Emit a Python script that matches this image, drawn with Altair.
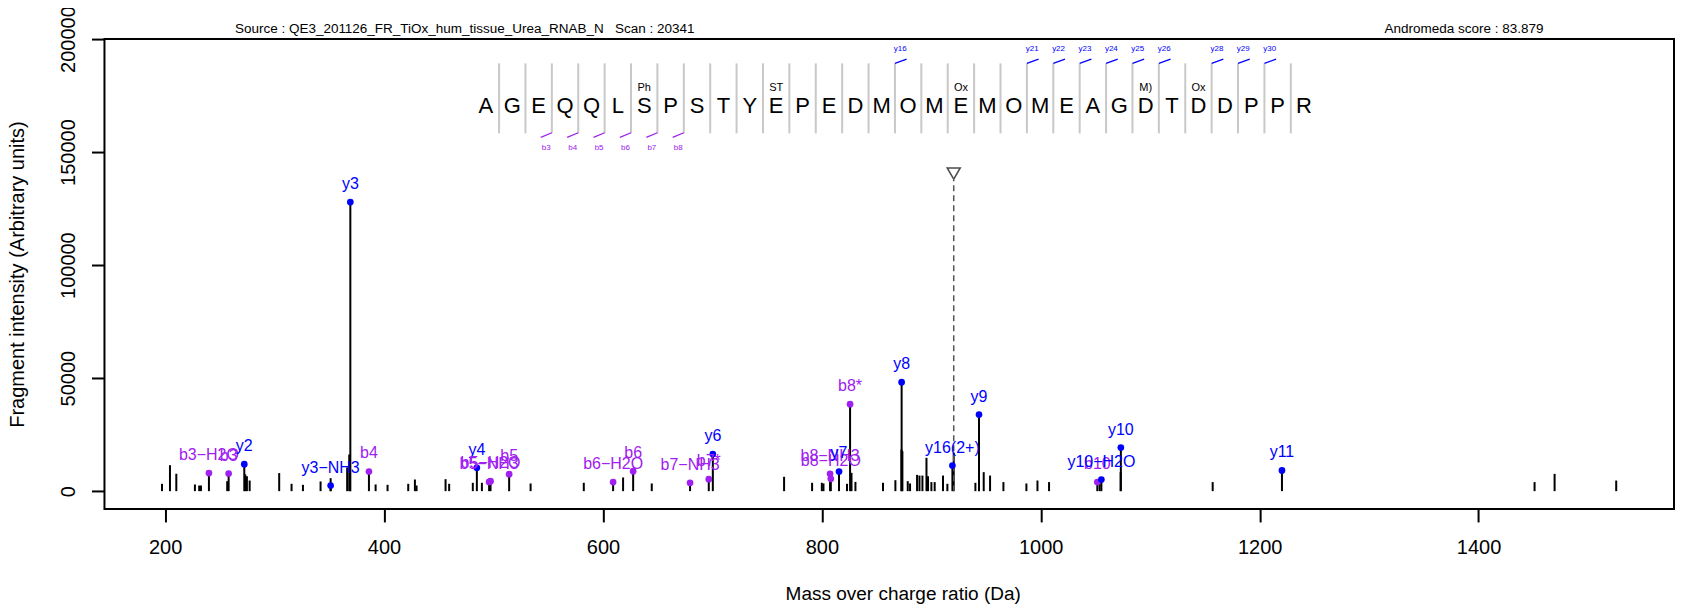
import altair as alt
import pandas as pd

# ---------------- data ----------------
# unannotated fragment peaks (m/z, intensity)
other_mz = [197.1, 204.4, 210.2, 227.2, 231.1, 232.7, 256.7, 273.2, 274.7, 277.2,
            304.2, 315.5, 325.9, 342.0, 351.2, 366.3, 368.2, 392.3, 403.2, 422.1,
            428.2, 429.7, 456.2, 459.5, 481.1, 489.4, 533.9, 582.5, 618.4, 644.6,
            765.5, 791.1, 800.0, 801.5, 823.0, 827.1, 830.7, 855.9, 867.2, 872.7,
            873.6, 878.5, 880.6, 887.0, 889.2, 891.9, 895.6, 897.0, 900.1, 903.1,
            910.7, 914.7, 920.5, 940.3, 943.6, 947.9, 953.7, 965.9, 986.9, 997.0,
            1007.6, 1053.8, 1073.0, 1157.1, 1451.2, 1469.5, 1525.8]
other_int = [3250, 11500, 7700, 2950, 2500, 2500, 4400, 7400, 6600, 4700,
             8000, 3250, 2800, 4300, 5750, 10500, 16200, 2950, 2800, 3250,
             5150, 2500, 5300, 3250, 3700, 3700, 3400, 3700, 6050, 3400,
             6350, 3700, 3700, 3400, 3250, 8100, 4100, 3700, 4850, 18400,
             17700, 4400, 3400, 7200, 6900, 6900, 14750, 6600, 4000, 4000,
             6900, 3250, 17000, 3700, 11350, 8400, 6900, 4000, 3400, 4700,
             4000, 3700, 8400, 4000, 4000, 7650, 4700]

# annotated fragment ions
ion_label = ["b3\u2212H2O", "b3", "y2", "y3\u2212NH3", "y3", "b4", "y4", "b5\u2212NH3",
             "b5\u2212H2O", "b5", "b6\u2212H2O", "b6", "b7\u2212NH3", "b7*", "y6",
             "b8\u2212NH3", "b8\u2212H2O", "y7", "b8*", "y8", "y16(2+)", "y9", "b10",
             "y10\u2212H2O", "y10", "y11"]
ion_mz = [240.0, 258.0, 272.3, 351.2, 369.2, 386.2, 484.8, 496.0, 497.3, 514.3,
          609.3, 627.6, 679.6, 696.7, 700.4, 807.5, 808.2, 815.7, 825.8, 872.9,
          919.3, 943.6, 1051.7, 1055.4, 1073.2, 1220.4]
ion_int = [8000, 7800, 11950, 2500, 127900, 8700, 10300, 4100, 4400, 7500,
           4000, 8850, 3700, 5300, 16400, 7650, 5450, 8700, 38500, 48200,
           11350, 33900, 4000, 5150, 19300, 9150]

precursor_mz = [920.5]

sequence = list("AGEQQLSPSTYEPEDMOMEMOMEAGDTDDPPR")
mod_pos = [7, 12, 19, 26, 28]
mod_text = ["Ph", "ST", "Ox", "M)", "Ox"]
b_frag = [3, 4, 5, 6, 7, 8]
y_frag = [16, 21, 22, 23, 24, 25, 26, 28, 29, 30]

x_ticks = [200, 400, 600, 800, 1000, 1200, 1400]
y_ticks = [0, 50000, 100000, 150000, 200000]

source_text = "Source : QE3_201126_FR_TiOx_hum_tissue_Urea_RNAB_N\u00a0\u00a0\u00a0Scan : 20341"
score_text = "Andromeda score : 83.879"

# ---------------- tables ----------------
peaks = pd.DataFrame({"mz": other_mz + ion_mz, "inten": other_int + ion_int})
ions = pd.DataFrame({"mz": ion_mz, "inten": ion_int, "label": ion_label,
                     "kind": [l[0] for l in ion_label]})
prec = pd.DataFrame({"mz": precursor_mz})
seq_df = pd.DataFrame({"pos": list(range(1, len(sequence) + 1)), "res": sequence})
mod_df = pd.DataFrame({"pos": mod_pos, "txt": mod_text})
b_df = pd.DataFrame({"k": b_frag})
y_df = pd.DataFrame({"k": y_frag})

FONT = "Liberation Sans, Arial, Helvetica, sans-serif"
W, H = 1570, 470
PURPLE, BLUE = "#A020F0", "#0000FF"

xs = alt.Scale(domain=[144.56, 1578.6], nice=False, zero=False)
ys = alt.Scale(domain=[-7870, 200000], nice=False, zero=False)
color = alt.Color("kind:N", scale=alt.Scale(domain=["b", "y"], range=[PURPLE, BLUE]), legend=None)

stems = alt.Chart(peaks).mark_rule(color="black", strokeWidth=2).encode(
    x=alt.X("mz:Q", scale=xs,
            axis=alt.Axis(values=x_ticks, format="d", title="Mass over charge ratio (Da)",
                          labelPadding=16, labelFlush=False, labelOverlap=False,
                          titleFontSize=19, titleX=798.5, titleY=91,
                          titleBaseline="alphabetic", grid=False, domain=False)),
    y=alt.Y("inten:Q", scale=ys,
            axis=alt.Axis(values=y_ticks, format="d", labelAngle=270, labelAlign="center",
                          labelBaseline="alphabetic", labelPadding=17, labelOverlap=False,
                          title="Fragment intensity (Arbitrary units)", titleAngle=270,
                          titleX=-80.5, titleY=H / 2, titleBaseline="alphabetic",
                          titleAlign="center", grid=False, domain=False)),
    y2=alt.datum(0),
)

dots = alt.Chart(ions).mark_circle(size=45, opacity=1).encode(
    x=alt.X("mz:Q", scale=xs), y=alt.Y("inten:Q", scale=ys), color=color)

labels = alt.Chart(ions).mark_text(dy=-13, baseline="alphabetic", align="center",
                                   fontSize=16, font=FONT).encode(
    x=alt.X("mz:Q", scale=xs), y=alt.Y("inten:Q", scale=ys), text="label:N", color=color)

prec_line = alt.Chart(prec).mark_rule(color="#555555", strokeWidth=1.5, strokeDash=[6, 4]).encode(
    x=alt.X("mz:Q", scale=xs), y=alt.datum(0), y2=alt.value(141))
prec_tri = alt.Chart(prec).mark_point(shape="triangle-down", filled=False, size=170,
                                      color="black", strokeWidth=1.5).encode(
    x=alt.X("mz:Q", scale=xs), y=alt.value(134.5))

main = alt.layer(stems, prec_line, dots, labels, prec_tri)

# ---- sequence (own x scale: residue index) ----
ss = alt.Scale(domain=[-13.451, 46.019], nice=False, zero=False)

letters = alt.Chart(seq_df).mark_text(fontSize=22, font=FONT, baseline="alphabetic",
                                      align="center", color="black").encode(
    x=alt.X("pos:Q", scale=ss, axis=None), y=alt.value(73.7), text="res:N")

seps = alt.Chart(seq_df).transform_filter(f"datum.pos < {len(sequence)}").transform_calculate(
    s="datum.pos + 0.5").mark_rule(color="#C8C8C8", strokeWidth=2).encode(
    x=alt.X("s:Q", scale=ss, axis=None), y=alt.value(24.3), y2=alt.value(94.3))

mods = alt.Chart(mod_df).mark_text(fontSize=11, font=FONT, baseline="alphabetic",
                                   align="center", color="black").encode(
    x=alt.X("pos:Q", scale=ss, axis=None), y=alt.value(51.7), text="txt:N")

y_tick = alt.Chart(y_df).transform_calculate(
    s="datum.k + 0.5", e="datum.k + 0.943").mark_rule(color=BLUE, strokeWidth=1.3).encode(
    x=alt.X("s:Q", scale=ss, axis=None), x2="e:Q", y=alt.value(24.3), y2=alt.value(20))
y_lab = alt.Chart(y_df).transform_calculate(
    lx="datum.k + 0.7", t="'y' + datum.k").mark_text(
    fontSize=8, font=FONT, baseline="alphabetic", align="center", color=BLUE).encode(
    x=alt.X("lx:Q", scale=ss, axis=None), y=alt.value(12), text="t:N")

b_tick = alt.Chart(b_df).transform_calculate(
    s="datum.k + 0.5", e="datum.k + 0.08").mark_rule(color=PURPLE, strokeWidth=1.3).encode(
    x=alt.X("s:Q", scale=ss, axis=None), x2="e:Q", y=alt.value(93.7), y2=alt.value(98.3))
b_lab = alt.Chart(b_df).transform_calculate(
    lx="datum.k + 0.29", t="'b' + datum.k").mark_text(
    fontSize=8, font=FONT, baseline="alphabetic", align="center", color=PURPLE).encode(
    x=alt.X("lx:Q", scale=ss, axis=None), y=alt.value(111), text="t:N")

seq_layer = alt.layer(seps, letters, mods, y_tick, y_lab, b_tick, b_lab)

# ---- header texts ----
head_l = alt.Chart(pd.DataFrame({"t": [source_text]})).mark_text(
    fontSize=13.5, font=FONT, align="left", baseline="alphabetic", color="black").encode(
    x=alt.value(130.5), y=alt.value(-6), text="t:N")
head_r = alt.Chart(pd.DataFrame({"t": [score_text]})).mark_text(
    fontSize=13.5, font=FONT, align="right", baseline="alphabetic", color="black").encode(
    x=alt.value(1439.5), y=alt.value(-6), text="t:N")

chart = alt.layer(main, seq_layer, head_l, head_r).resolve_scale(x="independent").properties(
    width=W, height=H,
    background="white",
    autosize=alt.AutoSizeParams(type="none"),
    padding={"left": 96.5, "top": 31, "right": 8, "bottom": 100},
).configure_view(stroke="black", strokeWidth=2).configure_axis(
    grid=False, domain=False, tickColor="black", tickWidth=2, tickSize=13,
    labelFont=FONT, labelFontSize=20, labelColor="black",
    titleFont=FONT, titleFontSize=20, titleColor="black", titleFontWeight="normal",
)

chart.save("out.html", embed_options={"renderer": "svg", "actions": False})
